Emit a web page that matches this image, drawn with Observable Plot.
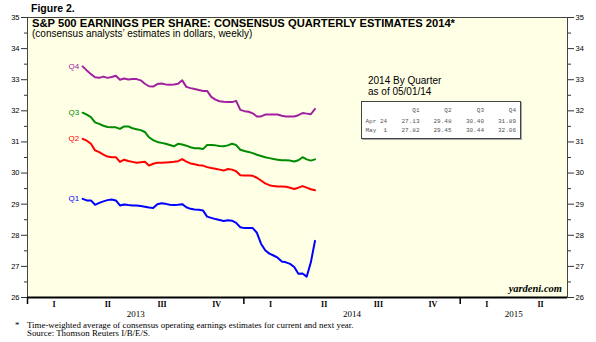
<!DOCTYPE html>
<html><head><meta charset="utf-8">
<script src="https://cdn.jsdelivr.net/npm/d3@7"></script>
<script src="https://cdn.jsdelivr.net/npm/@observablehq/plot@0.6"></script>
<style>
body{margin:0;background:#fff;}
#wrap{position:relative;width:596px;height:342px;overflow:hidden;font-family:"Liberation Sans",Arial,sans-serif;color:#000;}
#wrap svg{position:absolute;left:0;top:0;}
.t{position:absolute;white-space:nowrap;line-height:1;}
.serif{font-family:"Liberation Serif","Times New Roman",serif;}
.mono{font-family:"Liberation Mono","DejaVu Sans Mono",monospace;font-size:6px;color:#555;text-align:right;}
#box{position:absolute;left:361px;top:101px;width:158px;height:36px;background:#fff;border:1px solid #444;box-shadow:1px 1px 0 #aaa;}
</style></head><body><div id="wrap"></div>
<script>
const seriesNames = ["Q1","Q2","Q3","Q4"];
const seriesColors = ["#0000ff","#ff0000","#008c00","#a020a0"];
const q1 = [29.17,29.12,29.12,28.98,29.04,29.09,29.13,29.15,29.12,28.96,28.99,28.97,28.96,28.96,28.94,28.92,28.89,28.88,29.00,29.03,29.01,28.98,28.97,28.98,29.00,28.90,28.85,28.83,28.82,28.80,28.60,28.56,28.52,28.49,28.46,28.48,28.47,28.40,28.26,28.23,28.23,28.23,28.08,27.73,27.52,27.41,27.35,27.28,27.16,27.13,27.08,26.98,26.76,26.77,26.67,27.13,27.82];
const q2 = [31.10,31.04,30.94,30.73,30.67,30.59,30.53,30.51,30.51,30.36,30.43,30.39,30.36,30.33,30.35,30.36,30.24,30.30,30.33,30.33,30.34,30.35,30.36,30.38,30.45,30.37,30.31,30.28,30.25,30.24,30.19,30.16,30.14,30.11,30.08,30.13,30.11,30.06,29.93,29.92,29.92,29.91,29.85,29.76,29.67,29.61,29.58,29.57,29.57,29.56,29.53,29.49,29.53,29.58,29.53,29.48,29.45];
const q3 = [31.94,31.88,31.80,31.63,31.58,31.52,31.48,31.47,31.47,31.42,31.50,31.50,31.44,31.41,31.38,31.32,31.15,31.06,31.00,30.97,30.94,30.90,30.86,30.94,30.92,30.88,30.83,30.80,30.80,30.77,30.90,30.90,30.89,30.87,30.86,30.89,30.94,30.90,30.75,30.71,30.68,30.64,30.59,30.55,30.51,30.48,30.45,30.43,30.41,30.41,30.40,30.37,30.41,30.51,30.44,30.40,30.44];
const q4 = [33.43,33.30,33.18,33.08,33.06,33.10,33.06,33.09,33.13,33.00,33.04,33.01,33.02,33.02,32.98,32.87,32.79,32.78,32.86,32.88,32.85,32.84,32.85,32.87,32.98,32.77,32.73,32.70,32.67,32.64,32.64,32.45,32.36,32.31,32.29,32.28,32.28,32.32,32.03,31.99,31.97,31.92,31.82,31.82,31.88,31.88,31.88,31.88,31.84,31.82,31.82,31.82,31.86,31.93,31.91,31.89,32.06];
const seriesValues = [q1,q2,q3,q4];
const weekStart = new Date(Date.UTC(2013,3,4));
const weekEnd = new Date(Date.UTC(2014,4,2));
const weeks = d3.utcDay.range(weekStart, weekEnd, 7);
const quarterLabels = ["I","II","III","IV","I","II","III","IV","I","II"];
const yearLabels = ["2013","2014","2015"];
const yMajor = [26,27,28,29,30,31,32,33,34,35];
const yMinor = [26.5,27.5,28.5,29.5,30.5,31.5,32.5,33.5,34.5];
const tableDates = ["Apr 24","May  1"];
const titleText = "S&P 500 EARNINGS PER SHARE: CONSENSUS QUARTERLY ESTIMATES 2014*";
const subtitleText = "(consensus analysts\u2019 estimates in dollars, weekly)";
const insetTitle = ["2014 By Quarter","as of 05/01/14"];
const footLines = ["Time-weighted average of consensus operating earnings estimates for current and next year.","Source: Thomson Reuters I/B/E/S."];

const xDomain = [new Date(Date.UTC(2013,0,1)), new Date(Date.UTC(2015,6,1))];
const rows = seriesNames.flatMap((q,i) => weeks.map((d,j) => ({q, date:d, value:seriesValues[i][j]})));
const firsts = seriesNames.map((q,i) => ({q, date:weeks[0], value:seriesValues[i][0]}));
const qStarts = d3.utcMonth.range(xDomain[0], xDomain[1], 3);
const quarters = qStarts.map((s,i) => ({label:quarterLabels[i], mid:new Date((+s + +d3.utcMonth.offset(s,3))/2)}));
const years = yearLabels.map(y => {
  const s = new Date(Date.UTC(+y,0,1)), e = new Date(Date.UTC(+y+1,0,1));
  const a = Math.max(+s, +xDomain[0]), b = Math.min(+e, +xDomain[1]);
  return {label:y, mid:new Date((a+b)/2)};
});
const yearBounds = yearLabels.map(y => new Date(Date.UTC(+y,0,1)));

const chart = Plot.plot({
  width:596, height:342,
  marginLeft:27, marginRight:29, marginTop:17, marginBottom:45,
  style:{fontFamily:"Liberation Sans, Arial, sans-serif", fontSize:"7px", background:"transparent", overflow:"visible"},
  x:{type:"utc", domain:xDomain, label:null},
  y:{domain:[26,35], label:null},
  color:{domain:seriesNames, range:seriesColors},
  marks:[
    Plot.frame({fill:"#ffffe6"}),
    Plot.axisY({anchor:"left", ticks:yMajor, tickSize:6, tickPadding:2, fontSize:7.5, stroke:"#333"}),
    Plot.axisY({anchor:"left", ticks:yMinor, tickSize:3, tickFormat:()=>"", stroke:"#333"}),
    Plot.axisY({anchor:"right", ticks:yMajor, tickSize:6, tickPadding:2, fontSize:7.5, stroke:"#333"}),
    Plot.axisY({anchor:"right", ticks:yMinor, tickSize:3, tickFormat:()=>"", stroke:"#333"}),
    Plot.axisX({ticks:yearBounds, tickSize:7, tickFormat:()=>"", stroke:"#000", strokeWidth:1.5}),
    Plot.text(quarters, {x:"mid", text:"label", frameAnchor:"bottom", dy:9.5, fontFamily:"Liberation Serif, Times New Roman, serif", fontSize:8, fontWeight:"bold"}),
    Plot.text(years, {x:"mid", text:"label", frameAnchor:"bottom", dy:19, fontFamily:"Liberation Serif, Times New Roman, serif", fontSize:9}),
    Plot.line(rows, {x:"date", y:"value", z:"q", stroke:"q", strokeWidth:2, curve:"linear"}),
    Plot.text(firsts, {x:"date", y:"value", text:"q", fill:"q", textAnchor:"end", dx:-3.5, fontSize:8}),
    Plot.frame({stroke:"#444", strokeWidth:1}),
    Plot.ruleY([26], {stroke:"#000", strokeWidth:2})
  ]
});
const wrap = document.getElementById("wrap");
wrap.appendChild(chart);

function addText(txt, cls, style){
  const el = document.createElement("div");
  el.className = "t " + cls;
  el.textContent = txt;
  Object.assign(el.style, style);
  wrap.appendChild(el);
  return el;
}
addText("Figure 2.", "", {left:"31px", top:"2.6px", fontSize:"10.5px", fontWeight:"bold"});
addText(titleText, "", {left:"32px", top:"18px", fontSize:"11.2px", fontWeight:"bold"});
addText(subtitleText, "", {left:"32px", top:"29px", fontSize:"10px"});
addText(insetTitle[0], "", {left:"368px", top:"76px", fontSize:"10px"});
addText(insetTitle[1], "", {left:"368px", top:"86.5px", fontSize:"10px"});
addText("yardeni.com", "serif", {right:"34px", top:"284.2px", fontSize:"10.5px", fontWeight:"bold", fontStyle:"italic"});
addText("*", "serif", {left:"15px", top:"320.5px", fontSize:"8.9px"});
addText(footLines[0], "serif", {left:"27px", top:"320.5px", fontSize:"8.9px"});
addText(footLines[1], "serif", {left:"27px", top:"329px", fontSize:"8.9px"});

const box = document.createElement("div");
box.id = "box";
wrap.appendChild(box);
const colRight = [419.5, 451.5, 484, 516];
const rowTop = [107.9, 119.4, 128.4];
seriesNames.forEach((q,i) => {
  addText(q, "mono", {top:rowTop[0]+"px", right:(596-colRight[i])+"px"});
});
tableDates.forEach((dLabel,r) => {
  addText(dLabel, "mono", {top:rowTop[r+1]+"px", left:"365.5px", textAlign:"left", whiteSpace:"pre"});
  seriesValues.forEach((vals,i) => {
    const v = vals[vals.length - 2 + r];
    addText(v.toFixed(2), "mono", {top:rowTop[r+1]+"px", right:(596-colRight[i])+"px"});
  });
});
</script></body></html>
